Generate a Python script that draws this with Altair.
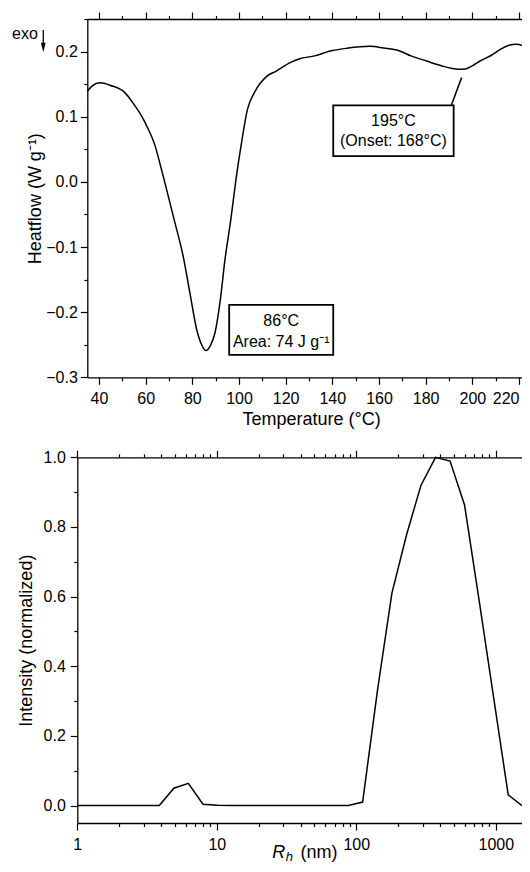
import altair as alt
import pandas as pd

FONT = "Liberation Sans"

# ---------------- DSC data ----------------
dsc_temp = [35, 37, 40.4, 45, 51.1, 55, 58.3, 61, 64, 66, 68.3, 72, 76.1, 79, 81.9, 84, 85.9,
            87.8, 89.7, 92, 94, 96.5, 98.7, 101, 103.6, 106.9, 111.9, 116, 121.9, 126, 131.9,
            140, 146.2, 156.1, 162, 167.6, 174, 180.4, 187, 191, 194, 197, 200, 203.3, 208,
            212, 216.1, 218.5, 220, 223.3, 226]
dsc_heat = [0.139, 0.147, 0.152, 0.148, 0.137, 0.119, 0.101, 0.082, 0.056, 0.030, -0.002,
            -0.055, -0.1145, -0.171, -0.227, -0.250, -0.259, -0.251, -0.232, -0.181, -0.1195,
            -0.058, 0.0035, 0.058, 0.111, 0.139, 0.162, 0.170, 0.183, 0.189, 0.193, 0.2015,
            0.205, 0.208, 0.2055, 0.2025, 0.193, 0.1855, 0.178, 0.1743, 0.1728, 0.1733, 0.178,
            0.1855, 0.194, 0.2035, 0.210, 0.2112, 0.2108, 0.206, 0.203]

# ---------------- DLS data ----------------
dls_rh = [0.92, 1.17, 1.48, 1.89, 2.40, 3.05, 3.87, 4.92, 6.25, 7.96, 10.1, 12.9, 16.3, 20.8,
          26.4, 33.6, 42.7, 54.2, 68.9, 87.6, 111, 142, 180, 229, 291, 370, 470, 597, 759,
          965, 1227, 1559, 1982]
dls_int = [0, 0, 0, 0, 0, 0, 0, 0.050, 0.064, 0.004, 0.001, 0, 0, 0, 0, 0, 0, 0, 0, 0,
           0.010, 0.332, 0.61, 0.777, 0.92, 1.0, 0.989, 0.863, 0.59, 0.31, 0.031, 0, 0]

# ---------------- tick values ----------------
top_x_ticks = [40, 50, 60, 70, 80, 90, 100, 110, 120, 130, 140, 150, 160, 170, 180, 190,
               200, 210, 220]
top_y_ticks = [-0.3, -0.25, -0.2, -0.15, -0.1, -0.05, 0.0, 0.05, 0.1, 0.15, 0.2, 0.25]
bot_x_ticks = [1, 2, 3, 4, 5, 6, 7, 8, 9, 10, 20, 30, 40, 50, 60, 70, 80, 90,
               100, 200, 300, 400, 500, 600, 700, 800, 900, 1000]
bot_y_ticks = [0.0, 0.1, 0.2, 0.3, 0.4, 0.5, 0.6, 0.7, 0.8, 0.9, 1.0]

# ---------------- annotations ----------------
box_t1 = [95.8, 140.4]
box_t2 = [140.4, 192.0]
box_v1 = [-0.2657, 0.0394]
box_v2 = [-0.1888, 0.1174]
ann_t = [118.1, 118.1, 166.2, 166.2]
ann_v = [-0.2211, -0.2529, 0.0855, 0.0543]
ann_label = ["86°C", "Area: 74 J g⁻¹", "195°C", "(Onset: 168°C)"]
lead_t1, lead_t2 = [190.9], [195.4]
lead_v1, lead_v2 = [0.1163], [0.160]

dsc_df = pd.DataFrame({"t": dsc_temp, "v": dsc_heat})
dls_df = pd.DataFrame({"rh": dls_rh, "i": dls_int})
box_df = pd.DataFrame({"t1": box_t1, "t2": box_t2, "v1": box_v1, "v2": box_v2})
ann_df = pd.DataFrame({"t": ann_t, "v": ann_v, "label": ann_label})
lead_df = pd.DataFrame({"t1": lead_t1, "t2": lead_t2, "v1": lead_v1, "v2": lead_v2})
one = pd.DataFrame({"a": [0]})

# whole drawing area (the two panels share one view; each has its own scales)
VW, VH = 514, 856
# upper panel frame (pixels in the view)
T_L, T_R, T_TOP, T_BOT = 79.3, VW, 11, 369.3
# lower panel frame
B_L, B_R, B_TOP, B_BOT = 69.3, VW, 449.3, 815


def tsize(test):
    return {"condition": {"test": test, "value": 7}, "value": 3.5}


MAJ_TX = "datum.value % 20 == 0"
MAJ_TY = "abs(datum.value*10 - round(datum.value*10)) < 0.001"
MAJ_BX = "datum.value == 1 || datum.value == 10 || datum.value == 100 || datum.value == 1000"
MAJ_BY = "abs(datum.value*5 - round(datum.value*5)) < 0.001"

xs_top = alt.Scale(domain=[35, 221.29], range=[T_L, T_R], nice=False, zero=False)
ys_top = alt.Scale(domain=[-0.3, 0.25], range=[T_BOT, T_TOP], nice=False, zero=False)
xs_bot = alt.Scale(type="log", domain=[1, 1541], range=[B_L, B_R], nice=False, clamp=True)
ys_bot = alt.Scale(domain=[-0.05, 1.0], range=[B_BOT, B_TOP], nice=False, zero=False)

ax_tx_bottom = alt.Axis(orient="bottom", offset=-(VH - T_BOT), values=top_x_ticks, format="d",
                        labelExpr=f"{MAJ_TX} ? datum.label : ''", tickSize=tsize(MAJ_TX),
                        labelAlign={"condition": {"test": "datum.value == 220",
                                                  "value": "right"}, "value": "center"},
                        labelPadding=6, labelOverlap=False, labelFlush=False,
                        title="Temperature (°C)", titleX=303, titleY=47,
                        titleBaseline="alphabetic", titleAlign="center", grid=False)
ax_tx_top = alt.Axis(orient="top", offset=-T_TOP, values=top_x_ticks, labels=False,
                     tickSize=tsize(MAJ_TX), title=None, grid=False)
ax_ty = alt.Axis(orient="left", offset=-T_L, values=top_y_ticks, format=".1f",
                 labelExpr=f"{MAJ_TY} ? datum.label : ''", tickSize=tsize(MAJ_TY),
                 labelPadding=3, labelOverlap=False, labelFlush=False,
                 title="Heatflow (W g⁻¹)", titleX=-47, titleY=(T_TOP + T_BOT) / 2,
                 titleAngle=270, titleBaseline="alphabetic", titleAlign="center", grid=False)

ax_bx_bottom = alt.Axis(orient="bottom", offset=-(VH - B_BOT), values=bot_x_ticks, format="d",
                        labelExpr=f"({MAJ_BX}) ? datum.label : ''", tickSize=tsize(MAJ_BX),
                        labelPadding=6, labelOverlap=False, labelFlush=False, title=None,
                        grid=False)
ax_bx_top = alt.Axis(orient="top", offset=-B_TOP, values=bot_x_ticks, labels=False,
                     tickSize=tsize(MAJ_BX), title=None, grid=False)
ax_by = alt.Axis(orient="left", offset=-B_L, values=bot_y_ticks, format=".1f",
                 labelExpr=f"{MAJ_BY} ? datum.label : ''", tickSize=tsize(MAJ_BY),
                 labelPadding=5, labelOverlap=False, labelFlush=False,
                 title="Intensity (normalized)", titleX=-46, titleY=(B_TOP + B_BOT) / 2,
                 titleAngle=270, titleBaseline="alphabetic", titleAlign="center", grid=False)

# ---------------- upper panel (DSC) ----------------
dsc_line = alt.Chart(dsc_df).mark_line(color="black", strokeWidth=1.5,
                                       interpolate="monotone").encode(
    x=alt.X("t:Q", scale=xs_top, axis=ax_tx_bottom),
    y=alt.Y("v:Q", scale=ys_top, axis=ax_ty),
)
boxes = alt.Chart(box_df).mark_rect(fill="white", stroke="black", strokeWidth=1.8).encode(
    x=alt.X("t1:Q", scale=xs_top, axis=ax_tx_top),
    x2="t2:Q",
    y=alt.Y("v1:Q", scale=ys_top, axis=None),
    y2="v2:Q",
)
ann = alt.Chart(ann_df).mark_text(font=FONT, fontSize=16, color="black", align="center",
                                  baseline="alphabetic").encode(
    x=alt.X("t:Q", scale=xs_top, axis=None),
    y=alt.Y("v:Q", scale=ys_top, axis=None),
    text="label:N",
)
leader = alt.Chart(lead_df).mark_rule(color="black", strokeWidth=1.5).encode(
    x=alt.X("t1:Q", scale=xs_top, axis=None),
    x2="t2:Q",
    y=alt.Y("v1:Q", scale=ys_top, axis=None),
    y2="v2:Q",
)
exo_text = alt.Chart(one).mark_text(text="exo", font=FONT, fontSize=16, color="black",
                                    align="left", baseline="alphabetic").encode(
    x=alt.value(4), y=alt.value(31.3))
exo_line = alt.Chart(one).mark_rule(color="black", strokeWidth=1.3).encode(
    x=alt.value(35.3), y=alt.value(22), y2=alt.value(37))
exo_head = alt.Chart(one).mark_point(shape="M-0.5,-1L0.5,-1L0,1Z", filled=True, size=92,
                                     color="black", opacity=1, strokeWidth=0).encode(
    x=alt.value(35.3), y=alt.value(39.5))

# ---------------- lower panel (DLS) ----------------
dls_line = alt.Chart(dls_df).mark_line(color="black", strokeWidth=1.5).encode(
    x=alt.X("rh:Q", scale=xs_bot, axis=ax_bx_bottom),
    y=alt.Y("i:Q", scale=ys_bot, axis=ax_by),
)
dls_top = alt.Chart(dls_df).mark_line(strokeOpacity=0).encode(
    x=alt.X("rh:Q", scale=xs_bot, axis=ax_bx_top),
    y=alt.Y("i:Q", scale=ys_bot, axis=None),
)
r_txt = alt.Chart(one).mark_text(text="R", font=FONT, fontSize=18, fontStyle="italic",
                                 color="black", align="left", baseline="alphabetic").encode(
    x=alt.value(264.3), y=alt.value(850))
h_txt = alt.Chart(one).mark_text(text="h", font=FONT, fontSize=13, fontStyle="italic",
                                 color="black", align="left", baseline="alphabetic").encode(
    x=alt.value(277.8), y=alt.value(852.5))
nm_txt = alt.Chart(one).mark_text(text="(nm)", font=FONT, fontSize=18, color="black",
                                  align="left", baseline="alphabetic").encode(
    x=alt.value(292.5), y=alt.value(850))

chart = alt.layer(
    dsc_line, boxes, ann, leader, exo_text, exo_line, exo_head,
    dls_line, dls_top, r_txt, h_txt, nm_txt,
).resolve_scale(x="independent", y="independent").resolve_axis(
    x="independent", y="independent"
).properties(
    width=VW, height=VH, padding=0, autosize=alt.AutoSizeParams(type="none")
).configure(font=FONT).configure_axis(
    labelFont=FONT, titleFont=FONT, labelFontSize=16, titleFontSize=18,
    titleFontWeight="normal", labelColor="black", titleColor="black",
    domainColor="black", tickColor="black", domainWidth=1.3, tickWidth=1.2, grid=False,
).configure_view(stroke=None)

chart.save("out.html", embed_options={"renderer": "svg", "actions": False})
